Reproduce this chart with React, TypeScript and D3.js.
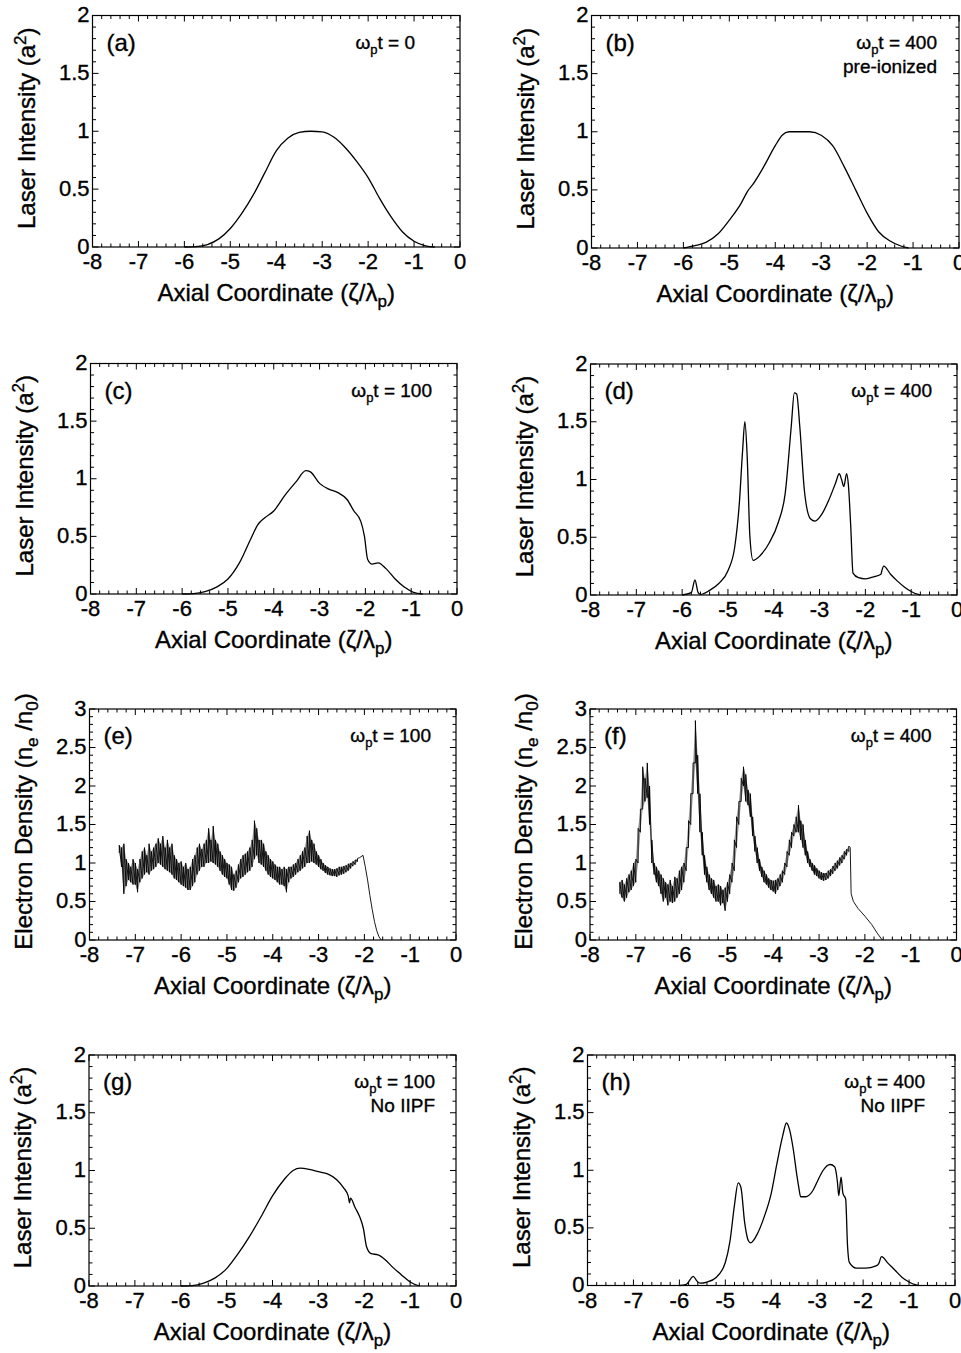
import React from "react";
import * as d3 from "d3";

type P = [number, number];
type R = [number, number, number];

// ---------- labels / ticks ----------
const panelIds = ["(a)", "(b)", "(c)", "(d)", "(e)", "(f)", "(g)", "(h)"];
const timeValues = ["0", "400", "100", "400", "100", "400", "100", "400"];
const secondLines = ["", "pre-ionized", "", "", "", "", "No IIPF", "No IIPF"];
const quantities = ["intensity", "intensity", "intensity", "intensity", "density", "density", "intensity", "intensity"];
const xTickValues = [-8, -7, -6, -5, -4, -3, -2, -1, 0];
const intensityTickValues = [0, 0.5, 1, 1.5, 2];
const densityTickValues = [0, 0.5, 1, 1.5, 2, 2.5, 3];

// ---------- data ----------
const curveA: P[] = [[-6.0,0],[-5.75,0.003],[-5.5,0.02],[-5.25,0.07],[-5.0,0.16],[-4.75,0.29],[-4.5,0.45],[-4.25,0.64],[-4.0,0.83],[-3.75,0.94],[-3.5,0.99],[-3.25,1.0],[-3.0,0.995],[-2.75,0.95],[-2.5,0.86],[-2.25,0.74],[-2.0,0.6],[-1.75,0.42],[-1.5,0.26],[-1.25,0.13],[-1.0,0.05],[-0.75,0.01],[-0.55,0]];

const curveB: P[] = [[-6.0,0],[-5.75,0.02],[-5.5,0.05],[-5.25,0.12],[-5.0,0.24],[-4.75,0.38],[-4.6,0.49],[-4.5,0.54],[-4.25,0.7],[-4.0,0.88],[-3.85,0.97],[-3.7,1.0],[-3.5,1.0],[-3.25,1.0],[-3.0,0.97],[-2.75,0.88],[-2.5,0.7],[-2.25,0.5],[-2.0,0.3],[-1.75,0.14],[-1.5,0.06],[-1.25,0.015],[-1.1,0]];

const curveC: P[] = [[-6.0,0],[-5.75,0.003],[-5.5,0.02],[-5.25,0.06],[-5.0,0.13],[-4.75,0.27],[-4.5,0.48],[-4.35,0.6],[-4.2,0.66],[-4.0,0.72],[-3.75,0.86],[-3.5,0.98],[-3.3,1.07],[-3.2,1.06],[-3.0,0.96],[-2.8,0.91],[-2.6,0.88],[-2.4,0.82],[-2.25,0.72],[-2.1,0.63],[-2.02,0.5],[-1.95,0.3],[-1.85,0.26],[-1.72,0.27],[-1.55,0.22],[-1.35,0.13],[-1.15,0.06],[-0.95,0.015],[-0.75,0]];

const curveD: P[] = [[-6.0,0],[-5.8,0.02],[-5.72,0.13],[-5.65,0.02],[-5.6,0.005],[-5.4,0.04],[-5.2,0.1],[-5.0,0.21],[-4.85,0.42],[-4.75,0.8],[-4.68,1.25],[-4.63,1.5],[-4.58,1.2],[-4.52,0.5],[-4.45,0.3],[-4.3,0.34],[-4.1,0.45],[-3.9,0.63],[-3.75,0.88],[-3.62,1.45],[-3.55,1.75],[-3.5,1.74],[-3.43,1.45],[-3.33,0.9],[-3.2,0.66],[-3.1,0.64],[-2.95,0.7],[-2.8,0.82],[-2.65,0.97],[-2.57,1.05],[-2.52,1.0],[-2.47,0.94],[-2.41,1.05],[-2.37,0.95],[-2.32,0.6],[-2.27,0.19],[-2.15,0.15],[-2.0,0.14],[-1.8,0.16],[-1.66,0.18],[-1.64,0.21],[-1.6,0.25],[-1.45,0.18],[-1.3,0.12],[-1.15,0.07],[-1.0,0.03],[-0.85,0.005],[-0.8,0]];

const curveG: P[] = [[-6.0,0],[-5.75,0.003],[-5.5,0.025],[-5.25,0.07],[-5.0,0.15],[-4.75,0.28],[-4.5,0.43],[-4.25,0.6],[-4.0,0.78],[-3.75,0.92],[-3.55,1.0],[-3.4,1.02],[-3.2,1.01],[-3.0,0.99],[-2.8,0.97],[-2.6,0.92],[-2.45,0.85],[-2.35,0.78],[-2.32,0.72],[-2.3,0.76],[-2.2,0.68],[-2.1,0.6],[-2.02,0.5],[-1.95,0.34],[-1.85,0.28],[-1.7,0.27],[-1.55,0.23],[-1.4,0.17],[-1.2,0.1],[-1.0,0.035],[-0.8,0]];

const curveH: P[] = [[-6.0,0],[-5.85,0.01],[-5.75,0.06],[-5.7,0.08],[-5.62,0.04],[-5.55,0.02],[-5.4,0.03],[-5.2,0.07],[-5.0,0.2],[-4.9,0.38],[-4.8,0.7],[-4.72,0.89],[-4.66,0.85],[-4.58,0.55],[-4.5,0.39],[-4.45,0.37],[-4.3,0.45],[-4.15,0.6],[-4.0,0.8],[-3.88,1.05],[-3.75,1.3],[-3.67,1.41],[-3.6,1.35],[-3.52,1.18],[-3.44,0.95],[-3.4,0.85],[-3.36,0.77],[-3.25,0.77],[-3.1,0.82],[-3.0,0.9],[-2.87,1.0],[-2.72,1.05],[-2.62,1.03],[-2.56,0.9],[-2.53,0.78],[-2.48,0.94],[-2.44,0.8],[-2.38,0.75],[-2.34,0.35],[-2.3,0.2],[-2.15,0.15],[-1.95,0.15],[-1.72,0.17],[-1.66,0.19],[-1.6,0.25],[-1.45,0.19],[-1.3,0.13],[-1.15,0.07],[-1.0,0.03],[-0.85,0.005],[-0.8,0]];

// noisy density: [x, low, high]
const densityE: R[] = [[-7.35,1.13,1.23],[-7.3,0.95,1.2],[-7.25,0.6,1.25],[-7.2,0.7,1.05],[-7.15,0.78,1.0],[-7.1,0.75,0.95],[-7.05,0.72,1.05],[-7.0,0.72,1.0],[-6.95,0.62,0.92],[-6.9,0.75,1.05],[-6.85,0.8,1.15],[-6.8,0.85,1.2],[-6.75,0.88,1.1],[-6.7,0.85,1.25],[-6.65,0.9,1.15],[-6.6,0.92,1.2],[-6.55,0.95,1.25],[-6.5,1.0,1.32],[-6.45,0.98,1.25],[-6.4,0.95,1.35],[-6.35,0.92,1.2],[-6.3,0.9,1.3],[-6.25,0.88,1.2],[-6.2,0.85,1.25],[-6.15,0.8,1.1],[-6.1,0.78,1.05],[-6.05,0.75,1.0],[-6.0,0.72,1.02],[-5.95,0.7,0.95],[-5.9,0.68,1.0],[-5.85,0.65,0.92],[-5.8,0.65,0.95],[-5.75,0.7,1.05],[-5.7,0.75,1.1],[-5.65,0.85,1.2],[-5.6,0.9,1.25],[-5.55,0.95,1.18],[-5.5,0.95,1.25],[-5.45,1.0,1.3],[-5.4,1.0,1.45],[-5.35,1.02,1.3],[-5.3,1.0,1.48],[-5.25,0.98,1.3],[-5.2,0.95,1.25],[-5.15,0.9,1.15],[-5.1,0.85,1.1],[-5.05,0.82,1.05],[-5.0,0.8,1.0],[-4.95,0.72,0.98],[-4.9,0.65,0.95],[-4.85,0.64,0.85],[-4.8,0.68,0.9],[-4.75,0.75,0.98],[-4.7,0.8,1.05],[-4.65,0.82,1.1],[-4.6,0.85,1.12],[-4.55,0.88,1.15],[-4.5,0.9,1.2],[-4.45,0.95,1.3],[-4.4,1.05,1.55],[-4.35,1.1,1.45],[-4.3,1.0,1.3],[-4.25,0.98,1.3],[-4.2,0.95,1.25],[-4.15,0.9,1.15],[-4.1,0.85,1.1],[-4.05,0.82,1.05],[-4.0,0.8,1.02],[-3.95,0.78,0.98],[-3.9,0.75,0.95],[-3.85,0.72,0.95],[-3.8,0.72,0.92],[-3.75,0.7,0.95],[-3.7,0.62,0.92],[-3.65,0.75,0.95],[-3.6,0.8,0.95],[-3.55,0.82,0.98],[-3.5,0.85,1.0],[-3.45,0.88,1.05],[-3.4,0.9,1.1],[-3.35,0.93,1.15],[-3.3,0.95,1.2],[-3.25,1.0,1.35],[-3.2,1.0,1.42],[-3.15,1.02,1.3],[-3.1,1.0,1.25],[-3.05,0.98,1.15],[-3.0,0.95,1.1],[-2.95,0.92,1.05],[-2.9,0.9,1.0],[-2.85,0.87,0.97],[-2.8,0.85,0.95],[-2.75,0.84,0.93],[-2.7,0.83,0.92],[-2.65,0.83,0.92],[-2.6,0.82,0.93],[-2.55,0.84,0.95],[-2.5,0.85,0.95],[-2.45,0.86,0.96],[-2.4,0.88,0.97],[-2.35,0.9,0.99],[-2.3,0.93,1.0],[-2.25,0.96,1.02],[-2.2,0.98,1.04],[-2.15,1.02,1.06]];
const tailE: P[] = [[-2.1,1.07],[-2.03,1.1],[-1.98,0.95],[-1.93,0.78],[-1.88,0.58],[-1.83,0.4],[-1.78,0.24],[-1.73,0.12],[-1.68,0.04],[-1.63,0]];

const densityF: R[] = [[-7.35,0.6,0.75],[-7.3,0.55,0.78],[-7.25,0.5,0.72],[-7.2,0.55,0.8],[-7.15,0.62,0.85],[-7.1,0.65,0.9],[-7.05,0.7,1.0],[-7.0,0.75,1.05],[-6.95,1.0,1.45],[-6.9,1.4,1.7],[-6.85,1.7,2.25],[-6.8,1.8,2.1],[-6.75,1.85,2.3],[-6.7,1.5,2.0],[-6.65,1.0,1.3],[-6.6,0.85,1.0],[-6.55,0.75,0.95],[-6.5,0.7,0.9],[-6.45,0.6,0.85],[-6.4,0.5,0.8],[-6.35,0.55,0.75],[-6.3,0.45,0.72],[-6.25,0.5,0.78],[-6.2,0.48,0.7],[-6.15,0.5,0.82],[-6.1,0.55,0.8],[-6.05,0.6,0.9],[-6.0,0.65,0.95],[-5.95,0.75,1.0],[-5.9,0.9,1.2],[-5.85,1.2,1.55],[-5.8,1.5,1.9],[-5.75,1.9,2.3],[-5.7,2.3,2.85],[-5.65,1.9,2.4],[-5.6,1.4,1.9],[-5.55,1.1,1.4],[-5.5,0.85,1.1],[-5.45,0.75,0.95],[-5.4,0.65,0.85],[-5.35,0.6,0.8],[-5.3,0.55,0.78],[-5.25,0.5,0.7],[-5.2,0.5,0.72],[-5.15,0.45,0.7],[-5.1,0.48,0.65],[-5.05,0.38,0.68],[-5.0,0.5,0.75],[-4.95,0.6,0.85],[-4.9,0.75,1.0],[-4.85,0.9,1.3],[-4.8,1.2,1.6],[-4.75,1.5,1.8],[-4.7,1.8,2.1],[-4.65,2.0,2.25],[-4.6,1.8,2.15],[-4.55,1.75,1.95],[-4.5,1.6,1.9],[-4.45,1.35,1.6],[-4.4,1.15,1.35],[-4.35,1.0,1.2],[-4.3,0.9,1.05],[-4.25,0.82,0.95],[-4.2,0.75,0.9],[-4.15,0.72,0.85],[-4.1,0.68,0.8],[-4.05,0.65,0.78],[-4.0,0.63,0.77],[-3.95,0.6,0.78],[-3.9,0.65,0.8],[-3.85,0.7,0.85],[-3.8,0.75,0.9],[-3.75,0.85,1.0],[-3.7,0.95,1.15],[-3.65,1.1,1.3],[-3.6,1.2,1.4],[-3.55,1.35,1.5],[-3.5,1.4,1.6],[-3.45,1.4,1.75],[-3.4,1.3,1.55],[-3.35,1.2,1.5],[-3.3,1.1,1.3],[-3.25,1.0,1.15],[-3.2,0.95,1.05],[-3.15,0.9,1.0],[-3.1,0.85,0.97],[-3.05,0.83,0.93],[-3.0,0.8,0.9],[-2.95,0.78,0.88],[-2.9,0.77,0.87],[-2.85,0.78,0.87],[-2.8,0.8,0.9],[-2.75,0.83,0.92],[-2.7,0.86,0.96],[-2.65,0.9,1.0],[-2.6,0.93,1.03],[-2.55,0.97,1.07],[-2.5,1.0,1.1],[-2.45,1.05,1.15],[-2.4,1.1,1.18],[-2.35,1.15,1.22]];
const tailF: P[] = [[-2.32,1.2],[-2.3,0.6],[-2.25,0.5],[-2.15,0.41],[-2.0,0.31],[-1.85,0.2],[-1.72,0.08],[-1.62,0]];

const smoothSeries: (P[] | null)[] = [curveA, curveB, curveC, curveD, null, null, curveG, curveH];
const noisySeries: ({ band: R[]; tail: P[] } | null)[] = [null, null, null, null, { band: densityE, tail: tailE }, { band: densityF, tail: tailF }, null, null];

// ---------- layout ----------
const frames = [
  { l: 92.5, t: 15.5, r: 460, b: 247 },
  { l: 591.5, t: 15.5, r: 959, b: 248 },
  { l: 90.5, t: 363.5, r: 457, b: 594 },
  { l: 590.5, t: 364, r: 957, b: 595 },
  { l: 89.5, t: 709, r: 456, b: 940 },
  { l: 590, t: 709, r: 956.5, b: 940 },
  { l: 89, t: 1055, r: 456, b: 1286 },
  { l: 587.5, t: 1055, r: 955, b: 1285.5 },
];
const annotRight = [45, 22, 25, 25, 25, 25, 21, 30];

const FONT = "'Liberation Sans', Arial, Helvetica, sans-serif";
const TXT = { fontFamily: FONT, fill: "#000", stroke: "#000", strokeWidth: 0.35 } as const;

function Panel({ i }: { i: number }) {
  const f = frames[i];
  const isDensity = quantities[i] === "density";
  const yMax = isDensity ? 3 : 2;
  const yTicks = isDensity ? densityTickValues : intensityTickValues;
  const x = d3.scaleLinear().domain([-8, 0]).range([f.l, f.r]);
  const y = d3.scaleLinear().domain([0, yMax]).range([f.b, f.t]);

  const line = d3.line<P>().x((d) => x(d[0])).y((d) => y(d[1]));
  let path = "";
  let bandPath = "";
  let strokeW = 1.3;
  const s = smoothSeries[i];
  if (s) {
    path = line.curve(d3.curveMonotoneX)(s) || "";
  }
  const n = noisySeries[i];
  if (n) {
    const pts: P[] = [];
    n.band.forEach((d) => {
      pts.push([d[0], d[1]]);
      pts.push([d[0], d[2]]);
    });
    n.tail.forEach((d) => pts.push(d));
    path = line.curve(d3.curveLinear)(pts) || "";
    bandPath =
      d3
        .area<R>()
        .x((d) => x(d[0]))
        .y0((d) => y(d[1]))
        .y1((d) => y(d[2]))
        .curve(d3.curveLinear)(n.band) || "";
    strokeW = 0.9;
  }

  const xMinor = d3.range(-8, 0.0001, 0.2);
  const yMinor = d3.range(0, yMax + 0.0001, 0.1);
  const isMajX = (v: number) => Math.abs(v - Math.round(v)) < 1e-6;
  const isMajY = (v: number) => Math.abs(v * 2 - Math.round(v * 2)) < 1e-6;

  const tickFs = 22;
  const titleFs = 24;
  const cy = (f.t + f.b) / 2;
  const cx = (f.l + f.r) / 2;
  const ar = f.r - annotRight[i];

  return (
    <g>
      {/* ticks */}
      {xMinor.map((v, k) => {
        const L = isMajX(v) ? 6 : 3.5;
        const xx = x(v);
        return (
          <g key={"xt" + k}>
            <line x1={xx} x2={xx} y1={f.b} y2={f.b - L} stroke="#000" strokeWidth={1} />
            <line x1={xx} x2={xx} y1={f.t} y2={f.t + L} stroke="#000" strokeWidth={1} />
          </g>
        );
      })}
      {yMinor.map((v, k) => {
        const L = isMajY(v) ? 6 : 3.5;
        const yy = y(v);
        return (
          <g key={"yt" + k}>
            <line x1={f.l} x2={f.l + L} y1={yy} y2={yy} stroke="#000" strokeWidth={1} />
            <line x1={f.r} x2={f.r - L} y1={yy} y2={yy} stroke="#000" strokeWidth={1} />
          </g>
        );
      })}
      <rect x={f.l} y={f.t} width={f.r - f.l} height={f.b - f.t} fill="none" stroke="#000" strokeWidth={1.2} />

      {/* tick labels */}
      {xTickValues.map((v) => (
        <text key={"xl" + v} x={x(v)} y={f.b + 22} textAnchor="middle" fontSize={tickFs} {...TXT}>
          {String(v)}
        </text>
      ))}
      {yTicks.map((v) => (
        <text key={"yl" + v} x={f.l - 3} y={y(v)} dy="0.3em" textAnchor="end" fontSize={tickFs} {...TXT}>
          {String(v)}
        </text>
      ))}

      {/* axis titles */}
      <text x={cx} y={f.b + 54} textAnchor="middle" fontSize={titleFs} {...TXT}>
        Axial Coordinate (ζ/λ<tspan dy={6} fontSize={17}>p</tspan><tspan dy={-6}>)</tspan>
      </text>
      <text transform={`translate(${f.l - 58},${cy - 3}) rotate(-90)`} textAnchor="middle" fontSize={titleFs} {...TXT}>
        {isDensity ? (
          <>
            Electron Density (n<tspan dy={6} fontSize={17}>e</tspan><tspan dy={-6}> /n</tspan><tspan dy={6} fontSize={17}>0</tspan><tspan dy={-6}>)</tspan>
          </>
        ) : (
          <>
            Laser Intensity (a<tspan dy={-9} fontSize={17}>2</tspan><tspan dy={9}>)</tspan>
          </>
        )}
      </text>

      {/* panel letter */}
      <text x={f.l + 14} y={f.t + 35} fontSize={24} {...TXT}>
        {panelIds[i]}
      </text>

      {/* annotation */}
      <text x={ar} y={f.t + 33} textAnchor="end" fontSize={19} {...TXT}>
        ω<tspan dy={5} fontSize={13}>p</tspan><tspan dy={-5}>t = {timeValues[i]}</tspan>
      </text>
      {secondLines[i] ? (
        <text x={ar} y={f.t + 57} textAnchor="end" fontSize={19} {...TXT}>
          {secondLines[i]}
        </text>
      ) : null}

      {/* data */}
      {bandPath ? <path d={bandPath} fill="#000" fillOpacity={0.4} stroke="none" /> : null}
      <path d={path} fill="none" stroke="#000" strokeWidth={strokeW} strokeLinejoin="round" />
    </g>
  );
}

export default function App() {
  return (
    <svg
      width={961}
      height={1353}
      viewBox="0 0 961 1353"
      style={{ position: "absolute", left: 0, top: 0, background: "#fff" }}
    >
      <rect x={0} y={0} width={961} height={1353} fill="#fff" />
      {panelIds.map((_, i) => (
        <Panel key={i} i={i} />
      ))}
    </svg>
  );
}
